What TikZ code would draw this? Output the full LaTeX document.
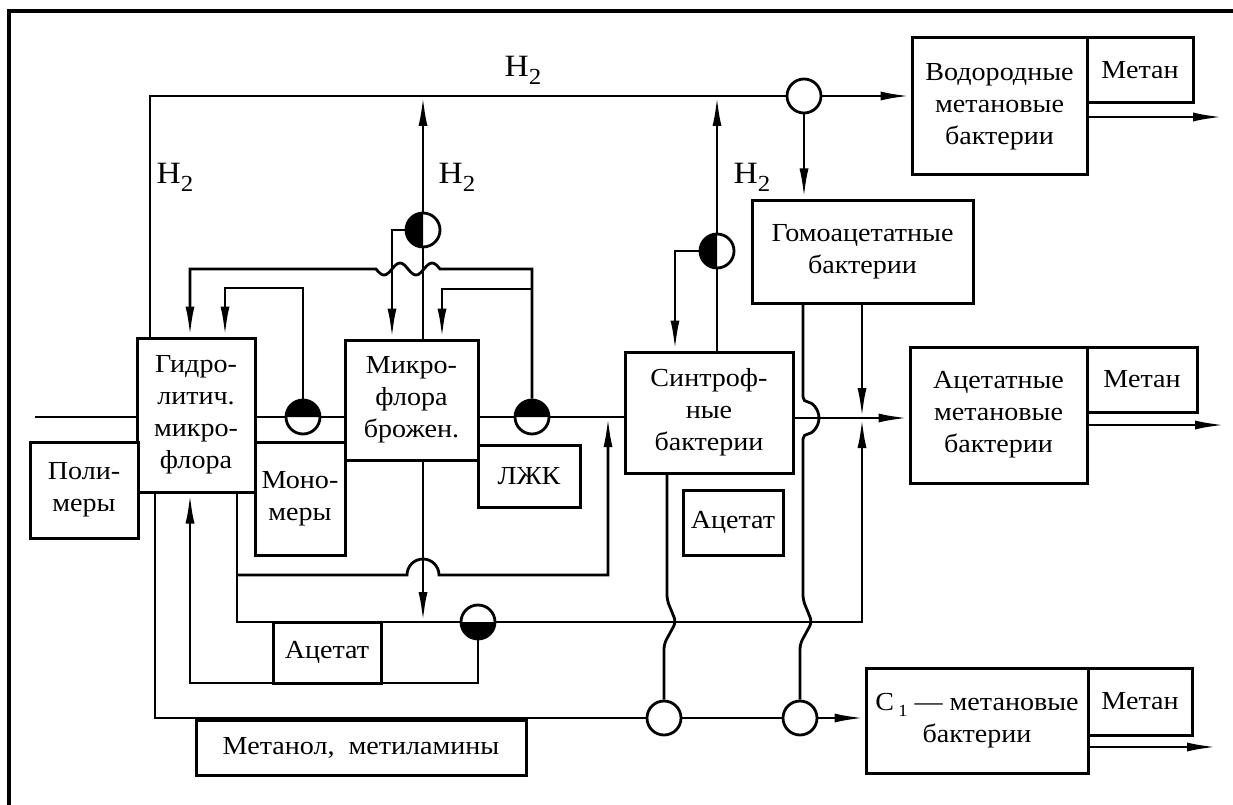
\documentclass[tikz,border=0pt]{standalone}
\usepackage{fontspec}
\setmainfont{Liberation Serif}[FakeStretch=1.08]
\usetikzlibrary{arrows.meta,calc}
\newcommand{\Hsub}{{\fontsize{31}{31}\selectfont H\raisebox{-8pt}{\fontsize{23}{23}\selectfont 2}}}
\begin{document}
\begin{tikzpicture}[x=1pt,y=-1pt,
  every node/.style={font=\fontsize{26}{32}\selectfont},
  box/.style={draw,line width=3pt,inner sep=0pt,align=center,fill=white},
  ln/.style={line width=2.8pt},
  arr/.style={ln,-{Latex[length=30pt,width=9pt]}},
  valve/.style={circle,draw,line width=2.8pt,minimum size=34pt,inner sep=0pt,fill=white}]
\useasboundingbox (0,0) rectangle (1233,805);
\draw[line width=3.2pt] (9,806) -- (9,11) -- (1233,11);

% boxes
\node[box,minimum width=118pt,minimum height=154pt] (hydro) at (196,415) {Гидро-\\литич.\\микро-\\флора};
\node[box,minimum width=108pt,minimum height=96pt] (poly) at (84,490) {Поли-\\меры};
\node[box,minimum width=90pt,minimum height=113pt] (mono) at (300,498.5) {Моно-\\меры};
\node[box,minimum width=133pt,minimum height=120pt] (micro) at (411.5,400) {Микро-\\флора\\брожен.};
\node[box,minimum width=102pt,minimum height=62pt] (lzhk) at (529,476) {ЛЖК};
\node[box,minimum width=168pt,minimum height=121pt] (synt) at (709,412.5) {Синтроф-\\ные\\бактерии};
\node[box,minimum width=100pt,minimum height=65pt] (acetR) at (733,522.5) {Ацетат};
\node[box,minimum width=175pt,minimum height=137pt] (vodor) at (999.5,106.5) {Водородные\\метановые\\бактерии};
\node[box,minimum width=106pt,minimum height=65pt] (met1) at (1140,70.5) {Метан};
\node[box,minimum width=221pt,minimum height=103pt] (homo) at (862.5,251.5) {Гомоацетатные\\бактерии};
\node[box,minimum width=177pt,minimum height=136pt] (acetM) at (998.5,415) {Ацетатные\\метановые\\бактерии};
\node[box,minimum width=110pt,minimum height=65pt] (met2) at (1142,379.5) {Метан};
\node[box,minimum width=222pt,minimum height=105pt] (c1) at (977,720.5) {C\,\raisebox{-6pt}{\fontsize{17}{17}\selectfont 1} — метановые\\бактерии};
\node[box,minimum width=104pt,minimum height=67pt] (met3) at (1140,701.5) {Метан};

% valves
\node[valve] (cL) at (303,417) {};
\node[valve] (cR) at (532,417) {};
\node[valve] (cT) at (423,230) {};
\node[valve] (cS) at (717,251) {};
\node[valve] (cA) at (478,622) {};
\node[valve] (cH) at (804,96) {};
\node[valve] (cB1) at (664,718) {};
\node[valve] (cB2) at (800,718) {};

% helper coordinates
\coordinate (in) at (35,417);
\coordinate (h2y) at (0,96);
\coordinate (fL) at (225,288);
\coordinate (fR1) at (190,269);
\coordinate (fR2) at (442,289);
\coordinate (tA) at (392,230);
\coordinate (hA) at (150,96);
\coordinate (sA) at (675,251);
\coordinate (mR) at (793,418);
\coordinate (jn) at (862,418);
\coordinate (bR) at (862,622);
\coordinate (b1) at (155,718);
\coordinate (a1) at (237,622);
\coordinate (a2) at (237,575);
\coordinate (a3) at (608,575);
\coordinate (r1) at (190,683);
\coordinate (o1) at (1223,117);
\coordinate (o2) at (1225,425);
\coordinate (o3) at (1217,747);
\coordinate (k1) at (667,473);
\coordinate (k2) at (803,303);

% main line
\draw[ln] (in) -- (in -| hydro.west);
\draw[ln] (cL.west -| hydro.east) -- (cL.west);
\draw[ln] (cL.east) -- (cL.east -| micro.west);
\draw[ln] (cR.west -| micro.east) -- (cR.west);
\draw[ln] (cR.east) -- (cR.east -| synt.west);
\draw[arr] (mR -| synt.east) -- (mR -| acetM.west);

% feedback loops
\draw[arr] (cL.north) |- (fL) -- (fL |- hydro.north);
\draw[arr] (cR.north) |- (440,269) sin (432,263) cos (424,269) sin (416,275) cos (408,269) sin (400,263) cos (392,269) sin (384,275) cos (376,269) -- (fR1) -- (fR1 |- hydro.north);
\draw[arr] (cR.north |- fR2) -- (fR2) -- (fR2 |- micro.north);

% hydrogen
\draw[ln] (micro.north -| cT) -- (cT.south);
\draw[arr] (cT.north) -- (cT.north |- h2y);
\draw[arr] (cT.west) -- (tA) -- (tA |- micro.north);
\draw[ln] (hA |- hydro.north) -- (hA) -- (cH.west);
\draw[arr] (cH.east) -- (cH.east -| vodor.west);
\draw[arr] (cH.south) -- (cH.south |- homo.north);
\draw[ln] (synt.north -| cS) -- (cS.south);
\draw[arr] (cS.north) -- (cS.north |- h2y);
\draw[arr] (cS.west) -- (sA) -- (sA |- synt.north);

% homoacetate outputs
\draw[arr] (jn |- homo.south) -- (jn);
\draw[ln,rounded corners=5pt] (k2 |- homo.south) -- (803,402) arc[start angle=90,end angle=-90,radius=16pt] -- (803,600) -- (812,622) -- (800,644) -- (cB2.north);
\draw[ln,rounded corners=5pt] (k1 |- synt.south) -- (667,600) -- (676,622) -- (664,644) -- (cB1.north);

% bottom methanol line
\draw[ln] (b1 |- hydro.south) -- (b1) -- (cB1.west);
\draw[ln] (cB1.east) -- (cB2.west);
\draw[arr] (cB2.east) -- (cB2.east -| c1.west);

% acetate lines
\draw[ln] (a1 |- hydro.south) -- (a1) -- (cA.west);
\draw[arr] (cA.east) -- (bR) -- (jn);
\draw[arr] (a2) -- (407,575) arc[start angle=180,end angle=0,radius=16pt] -- (a3) -- (a3 |- in);
\draw[arr] (micro.south -| cT) -- (cT |- bR);
\draw[arr] (cA.south) |- (r1) -- (r1 |- hydro.south);

% outputs
\draw[arr] (o1 -| vodor.east) -- (o1);
\draw[arr] (o2 -| acetM.east) -- (o2);
\draw[arr] (o3 -| c1.east) -- (o3);

% lower boxes on lines
\node[box,minimum width=108pt,minimum height=61pt] (acetL) at (327,652.5) {Ацетат};
\node[box,minimum width=330pt,minimum height=55pt] (methanol) at (361,747.5) {Метанол,\ \ метиламины};

% half fills
\fill ([xshift=17pt]cL.center) arc[start angle=0,end angle=180,radius=17pt] -- cycle;
\fill ([xshift=17pt]cR.center) arc[start angle=0,end angle=180,radius=17pt] -- cycle;
\fill ([yshift=17pt]cT.center) arc[start angle=90,end angle=270,radius=17pt] -- cycle;
\fill ([yshift=17pt]cS.center) arc[start angle=90,end angle=270,radius=17pt] -- cycle;
\fill ([xshift=17pt]cA.center) arc[start angle=0,end angle=-180,radius=17pt] -- cycle;

% labels
\node (l1) at (523,70) {\Hsub};
\node (l2) at (175,177) {\Hsub};
\node (l3) at (457,177) {\Hsub};
\node (l4) at (752,177) {\Hsub};
\end{tikzpicture}
\end{document}
